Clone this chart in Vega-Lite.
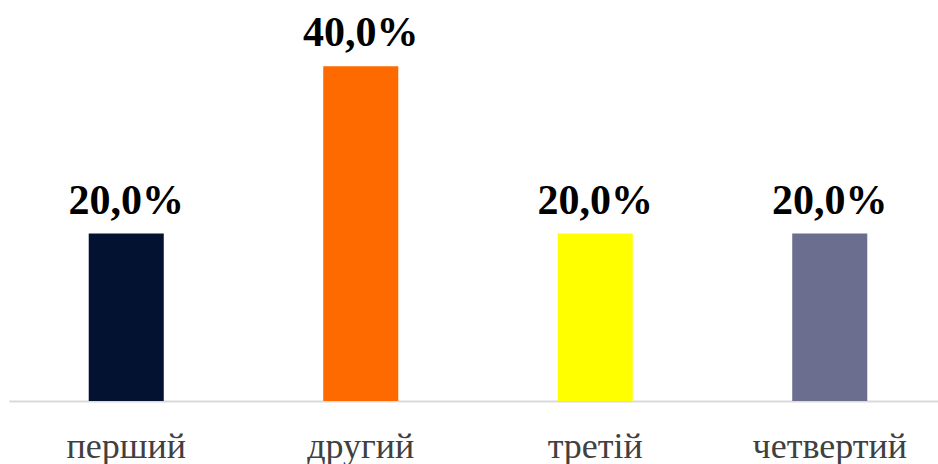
{
  "$schema": "https://vega.github.io/schema/vega-lite/v6.json",
  "autosize": "none",
  "width": 929,
  "height": 401,
  "padding": {"left": 9, "top": 0, "right": 0, "bottom": 63},
  "background": "white",
  "config": {"view": {"stroke": null},
    "locale": {"number": {"decimal": ",", "thousands": " ", "grouping": [3], "currency": ["", " ₴"], "percent": "%"}}},
  "data": {"values": [
    {"category": "перший", "value": 0.2},
    {"category": "другий", "value": 0.4},
    {"category": "третій", "value": 0.2},
    {"category": "четвертий", "value": 0.2}
  ]},
  "encoding": {
    "x": {"field": "category", "type": "nominal", "sort": null,
      "scale": {"range": [0, 938], "paddingInner": 0.68, "paddingOuter": 0.34},
      "axis": {"title": null, "labelAngle": 0, "ticks": false, "domainColor": "#d9d9d9", "domainWidth": 2,
        "labelFont": "Liberation Serif", "labelFontSize": 36, "labelColor": "#404040",
        "labelBaseline": "alphabetic", "labelPadding": 56}},
    "y": {"field": "value", "type": "quantitative", "scale": {"domain": [0, 0.479], "nice": false}, "axis": null}
  },
  "layer": [
    {"mark": {"type": "bar"},
     "encoding": {"color": {"field": "category", "type": "nominal", "sort": null, "legend": null,
       "scale": {"domain": ["перший", "другий", "третій", "четвертий"], "range": ["#041232", "#ff6a00", "#ffff00", "#6b6e8f"]}}}},
    {"mark": {"type": "text", "font": "Liberation Serif", "fontWeight": "bold", "fontSize": 42, "baseline": "alphabetic", "dy": -20, "color": "#000000"},
     "encoding": {"text": {"field": "value", "type": "quantitative", "format": ".1%"}}}
  ]
}
